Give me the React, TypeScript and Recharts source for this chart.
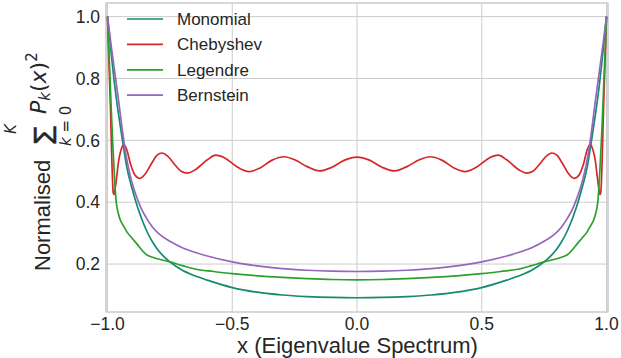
import React from 'react';
import { LineChart, Line, XAxis, YAxis, CartesianGrid, ReferenceArea } from 'recharts';

// series names and colours
const seriesNames = ['Monomial', 'Chebyshev', 'Legendre', 'Bernstein'];
const seriesColors = ['#148a70', '#d62728', '#2ca02c', '#9467bd'];

const xTicks = [-1, -0.5, 0, 0.5, 1];
const yTicks = [0.2, 0.4, 0.6, 0.8, 1.0];

const monomialX = [
  -1.0, -0.985, -0.97, -0.955, -0.94, -0.923, -0.9, -0.88, -0.86, -0.84, -0.82, -0.8, -0.775, -0.75,
  -0.7, -0.65, -0.6, -0.5, -0.4, -0.3, -0.2, -0.1, 0.0,
  0.1, 0.2, 0.3, 0.4, 0.5, 0.6, 0.65, 0.7,
  0.75, 0.775, 0.8, 0.82, 0.84, 0.86, 0.88, 0.9, 0.923, 0.94, 0.955, 0.97, 0.985, 1.0,
];
const monomialY = [
  1.0, 0.88, 0.77, 0.68, 0.6, 0.515, 0.44, 0.385, 0.34, 0.302, 0.272, 0.248, 0.225, 0.207,
  0.18, 0.162, 0.148, 0.124, 0.109, 0.1, 0.095, 0.092, 0.091,
  0.092, 0.095, 0.1, 0.109, 0.124, 0.148, 0.162, 0.18,
  0.207, 0.225, 0.248, 0.272, 0.302, 0.34, 0.385, 0.44, 0.515, 0.6, 0.68, 0.77, 0.88, 1.0,
];

const chebyshevX = [
  -1.0, -0.994, -0.988, -0.982, -0.977, -0.974, -0.97, -0.963, -0.955, -0.946, -0.934, -0.922, -0.908,
  -0.89, -0.87, -0.848, -0.823, -0.8, -0.781, -0.76, -0.73, -0.705, -0.68, -0.65, -0.6, -0.566,
  -0.53, -0.48, -0.433, -0.39, -0.34, -0.292, -0.25, -0.2, -0.151, -0.1, -0.05, 0.0,
  0.05, 0.1, 0.151, 0.2, 0.25, 0.292, 0.34, 0.39, 0.433, 0.48, 0.53, 0.566, 0.6, 0.65, 0.68,
  0.705, 0.73, 0.76, 0.781, 0.8, 0.823, 0.848, 0.87, 0.89, 0.908, 0.922, 0.934, 0.946, 0.955,
  0.963, 0.97, 0.974, 0.977, 0.982, 0.988, 0.994, 1.0,
];
const chebyshevY = [
  1.0, 0.85, 0.7, 0.52, 0.43, 0.425, 0.44, 0.483, 0.535, 0.568, 0.586, 0.568, 0.524,
  0.488, 0.477, 0.492, 0.526, 0.553, 0.559, 0.55, 0.521, 0.5, 0.494, 0.504, 0.537, 0.552,
  0.543, 0.514, 0.499, 0.51, 0.536, 0.547, 0.537, 0.515, 0.501, 0.513, 0.536, 0.546,
  0.536, 0.513, 0.501, 0.515, 0.537, 0.547, 0.536, 0.51, 0.499, 0.514, 0.543, 0.552, 0.537, 0.504, 0.494,
  0.5, 0.521, 0.55, 0.559, 0.553, 0.526, 0.492, 0.477, 0.488, 0.524, 0.568, 0.586, 0.568, 0.535,
  0.483, 0.44, 0.425, 0.43, 0.52, 0.7, 0.85, 1.0,
];

const legendreX = [
  -1.0, -0.995, -0.99, -0.985, -0.979, -0.972, -0.965, -0.957, -0.949, -0.935, -0.923, -0.9, -0.883,
  -0.86, -0.843, -0.82, -0.8, -0.75, -0.7, -0.65, -0.575, -0.5, -0.4, -0.3, -0.2, -0.1, 0.0,
  0.1, 0.2, 0.3, 0.4, 0.5, 0.575, 0.65, 0.7, 0.75, 0.8, 0.82, 0.843, 0.86,
  0.883, 0.9, 0.923, 0.935, 0.949, 0.957, 0.965, 0.972, 0.979, 0.985, 0.99, 0.995, 1.0,
];
const legendreY = [
  1.0, 0.9, 0.805, 0.7, 0.59, 0.48, 0.4, 0.365, 0.343, 0.322, 0.305, 0.282, 0.266,
  0.243, 0.23, 0.222, 0.217, 0.207, 0.195, 0.184, 0.176, 0.169, 0.162, 0.157, 0.153, 0.15, 0.149,
  0.15, 0.153, 0.157, 0.162, 0.169, 0.176, 0.184, 0.195, 0.207, 0.217, 0.222, 0.23, 0.243,
  0.266, 0.282, 0.305, 0.322, 0.343, 0.365, 0.4, 0.48, 0.59, 0.7, 0.805, 0.9, 1.0,
];

const bernsteinX = [
  -1.0, -0.985, -0.97, -0.955, -0.94, -0.925, -0.91, -0.895, -0.88, -0.865, -0.845, -0.82, -0.79,
  -0.75, -0.7, -0.65, -0.6, -0.5, -0.4, -0.3, -0.2, -0.1, 0.0,
  0.1, 0.2, 0.3, 0.4, 0.5, 0.6, 0.65, 0.7, 0.75, 0.79, 0.82, 0.845,
  0.865, 0.88, 0.895, 0.91, 0.925, 0.94, 0.955, 0.97, 0.985, 1.0,
];
const bernsteinY = [
  1.0, 0.905, 0.815, 0.725, 0.63, 0.548, 0.49, 0.445, 0.41, 0.38, 0.35, 0.32, 0.295,
  0.274, 0.253, 0.238, 0.226, 0.207, 0.194, 0.185, 0.18, 0.177, 0.176,
  0.177, 0.18, 0.185, 0.194, 0.207, 0.226, 0.238, 0.253, 0.274, 0.295, 0.32, 0.35,
  0.38, 0.41, 0.445, 0.49, 0.548, 0.63, 0.725, 0.815, 0.905, 1.0,
];

const toRows = (xs: number[], ys: number[]) => xs.map((x, i) => ({ x, y: ys[i] }));

const series = [
  toRows(monomialX, monomialY),
  toRows(chebyshevX, chebyshevY),
  toRows(legendreX, legendreY),
  toRows(bernsteinX, bernsteinY),
];

const textColor = '#262626';
const gridColor = '#cccccc';
const sans = '"Liberation Sans", Arial, sans-serif';
const math = '"DejaVu Sans", sans-serif';

const fmt = (v: number) => v.toFixed(1).replace('-', '\u2212');

export default function App() {
  return (
    <div style={{ position: 'absolute', left: 0, top: 0, width: 621, height: 358, background: '#fff' }}>
      <LineChart width={621} height={358} margin={{ top: 3, right: 13, bottom: 0, left: 0 }}>
        <CartesianGrid stroke={gridColor} strokeWidth={1} />
        <ReferenceArea x1={-1.006} x2={1.006} y1={0.045} y2={1.044} fill="none" stroke={gridColor} strokeWidth={1.2} />
        <XAxis
          dataKey="x"
          type="number"
          domain={[-1.006, 1.006]}
          allowDataOverflow
          ticks={xTicks}
          tickFormatter={fmt}
          axisLine={false}
          tickLine={false}
          tickSize={6}
          tickMargin={0}
          height={46}
          tick={{ fill: textColor, fontSize: 17.5, fontFamily: sans }}
        />
        <YAxis
          type="number"
          domain={[0.045, 1.044]}
          allowDataOverflow
          ticks={yTicks}
          tickFormatter={fmt}
          axisLine={false}
          tickLine={false}
          tickSize={6}
          tickMargin={0}
          width={106}
          tick={{ fill: textColor, fontSize: 17.5, fontFamily: sans }}
        />
        {series.map((rows, i) => (
          <Line
            key={seriesNames[i]}
            data={rows}
            dataKey="y"
            name={seriesNames[i]}
            type="monotone"
            stroke={seriesColors[i]}
            strokeWidth={1.7}
            dot={false}
            isAnimationActive={false}
          />
        ))}
      </LineChart>
      <svg width={621} height={358} style={{ position: 'absolute', left: 0, top: 0, pointerEvents: 'none' }}>
        {seriesNames.map((name, i) => (
          <g key={name}>
            <line x1={127} x2={163} y1={19 + i * 25.4} y2={19 + i * 25.4} stroke={seriesColors[i]} strokeWidth={1.7} />
            <text x={177} y={25 + i * 25.4} fontSize={17} fontFamily={sans} fill={textColor}>{name}</text>
          </g>
        ))}
        <text x={357.5} y={353} textAnchor="middle" fontSize={22} fontFamily={sans} fill={textColor}>
          x (Eigenvalue Spectrum)
        </text>
        <g transform="rotate(-90)" fill={textColor}>
          <text x={-271} y={49.5} fontSize={22} fontFamily={sans}>Normalised</text>
          <text x={-145} y={55.5} fontSize={32} fontFamily={sans} stroke={textColor} strokeWidth={0.5}>{'\u03A3'}</text>
          <text x={-134} y={16} fontSize={15} fontFamily={math} fontStyle="italic">K</text>
          <text x={-146} y={71} fontSize={15} fontFamily={math}>
            <tspan fontStyle="italic">k</tspan> = 0
          </text>
          <text x={-114} y={46} fontSize={22} fontFamily={math}>
            <tspan fontStyle="italic">P</tspan>
            <tspan fontSize={15} fontStyle="italic" dy={4}>k</tspan>
            <tspan dy={-4}>(</tspan>
            <tspan fontStyle="italic">x</tspan>
            <tspan>)</tspan>
            <tspan fontSize={15} dy={-9}>2</tspan>
          </text>
        </g>
      </svg>
    </div>
  );
}
